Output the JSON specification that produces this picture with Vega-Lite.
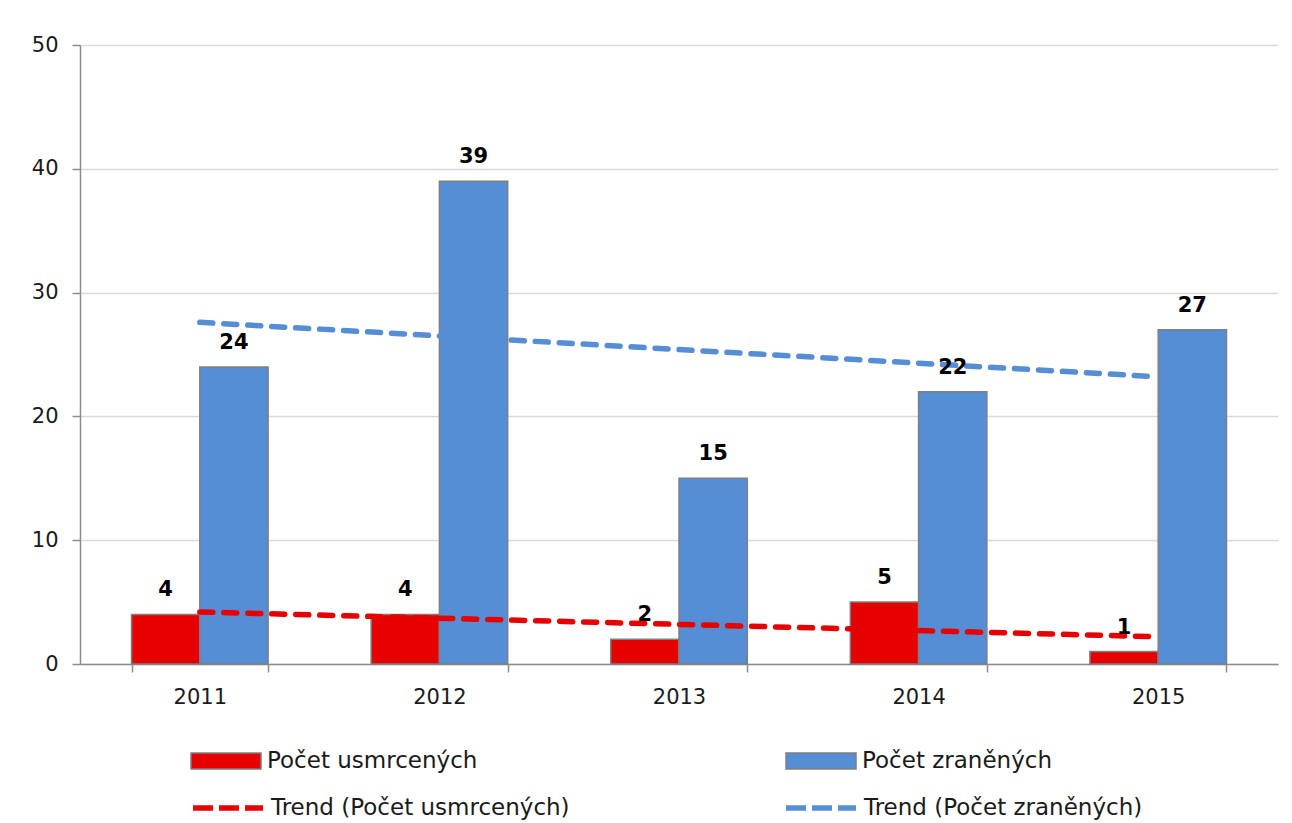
{
  "$schema": "https://vega.github.io/schema/vega-lite/v6.json",
  "width": 1198,
  "height": 619,
  "autosize": {"type": "none"},
  "padding": {"left": 80, "top": 45, "right": 14, "bottom": 159},
  "background": "white",
  "config": {
    "view": {"stroke": null},
    "font": "DejaVu Sans"
  },
  "datasets": {
    "bars": [
      {"year": "2011", "series": "Počet usmrcených", "value": 4},
      {"year": "2011", "series": "Počet zraněných", "value": 24},
      {"year": "2012", "series": "Počet usmrcených", "value": 4},
      {"year": "2012", "series": "Počet zraněných", "value": 39},
      {"year": "2013", "series": "Počet usmrcených", "value": 2},
      {"year": "2013", "series": "Počet zraněných", "value": 15},
      {"year": "2014", "series": "Počet usmrcených", "value": 5},
      {"year": "2014", "series": "Počet zraněných", "value": 22},
      {"year": "2015", "series": "Počet usmrcených", "value": 1},
      {"year": "2015", "series": "Počet zraněných", "value": 27}
    ],
    "trends": [
      {"year": "2011", "series": "Trend (Počet usmrcených)", "value": 4.2},
      {"year": "2012", "series": "Trend (Počet usmrcených)", "value": 3.7},
      {"year": "2013", "series": "Trend (Počet usmrcených)", "value": 3.2},
      {"year": "2014", "series": "Trend (Počet usmrcených)", "value": 2.7},
      {"year": "2015", "series": "Trend (Počet usmrcených)", "value": 2.2},
      {"year": "2011", "series": "Trend (Počet zraněných)", "value": 27.6},
      {"year": "2012", "series": "Trend (Počet zraněných)", "value": 26.5},
      {"year": "2013", "series": "Trend (Počet zraněných)", "value": 25.4},
      {"year": "2014", "series": "Trend (Počet zraněných)", "value": 24.3},
      {"year": "2015", "series": "Trend (Počet zraněných)", "value": 23.2}
    ]
  },
  "encoding": {
    "x": {
      "field": "year",
      "type": "ordinal",
      "scale": {"paddingInner": 0.43, "paddingOuter": 0.215},
      "axis": {
        "title": null,
        "labelAngle": 0,
        "labelFont": "DejaVu Sans",
        "labelFontSize": 21,
        "labelColor": "#1a1a1a",
        "labelPadding": 14,
        "tickBand": "extent",
        "tickSize": 8,
        "tickColor": "#8c8c8c",
        "tickWidth": 1.5,
        "domainColor": "#8c8c8c",
        "domainWidth": 1.5,
        "grid": false
      }
    },
    "y": {
      "field": "value",
      "type": "quantitative",
      "scale": {"domain": [0, 50], "nice": false},
      "axis": {
        "title": null,
        "values": [0, 10, 20, 30, 40, 50],
        "labelFont": "DejaVu Sans",
        "labelFontSize": 21,
        "labelColor": "#1a1a1a",
        "labelPadding": 14,
        "tickSize": 8,
        "tickColor": "#8c8c8c",
        "tickWidth": 1.5,
        "domainColor": "#8c8c8c",
        "domainWidth": 1.5,
        "grid": true,
        "gridColor": "#d9d9d9",
        "gridWidth": 1.5
      }
    }
  },
  "layer": [
    {
      "data": {"name": "bars"},
      "mark": {"type": "bar", "stroke": "#7f7f7f", "strokeWidth": 1.5},
      "encoding": {
        "xOffset": {
          "field": "series",
          "type": "nominal",
          "scale": {"domain": ["Počet usmrcených", "Počet zraněných"], "paddingInner": 0, "paddingOuter": 0}
        },
        "color": {
          "field": "series",
          "type": "nominal",
          "scale": {
            "domain": ["Počet usmrcených", "Počet zraněných"],
            "range": ["#e60000", "#558ed5"]
          },
          "legend": {
            "title": null,
            "orient": "none",
            "legendX": 110,
            "legendY": 680,
            "direction": "horizontal",
            "columnPadding": 305,
            "symbolOffset": 0,
            "labelOffset": 5,
            "labelFont": "DejaVu Sans",
            "labelFontSize": 23,
            "labelColor": "#1a1a1a",
            "labelLimit": 500,
            "symbolType": "M-1,-0.23H1V0.23H-1Z",
            "symbolSize": 4900,
            "symbolStrokeColor": "#7f7f7f",
            "symbolStrokeWidth": 1.5,
            "symbolOpacity": 1
          }
        }
      }
    },
    {
      "data": {"name": "trends"},
      "mark": {"type": "line", "strokeWidth": 5.5, "strokeDash": [13, 11], "strokeCap": "round"},
      "encoding": {
        "stroke": {
          "field": "series",
          "type": "nominal",
          "scale": {
            "domain": ["Trend (Počet usmrcených)", "Trend (Počet zraněných)"],
            "range": ["#e60000", "#558ed5"]
          },
          "legend": {
            "title": null,
            "orient": "none",
            "legendX": 110,
            "legendY": 725,
            "direction": "horizontal",
            "columnPadding": 205,
            "symbolOffset": 0,
            "labelOffset": 5,
            "labelFont": "DejaVu Sans",
            "labelFontSize": 23,
            "labelColor": "#1a1a1a",
            "labelLimit": 500,
            "symbolType": "stroke",
            "symbolSize": 4900,
            "symbolStrokeWidth": 5.5,
            "symbolDash": [20, 6],
            "symbolOpacity": 1
          }
        }
      }
    },
    {
      "data": {"name": "bars"},
      "mark": {"type": "text", "fontWeight": "bold", "fontSize": 21, "font": "DejaVu Sans", "color": "black", "baseline": "alphabetic", "dy": -18},
      "encoding": {
        "xOffset": {"field": "series", "type": "nominal"},
        "text": {"field": "value", "type": "quantitative"}
      }
    }
  ]
}
